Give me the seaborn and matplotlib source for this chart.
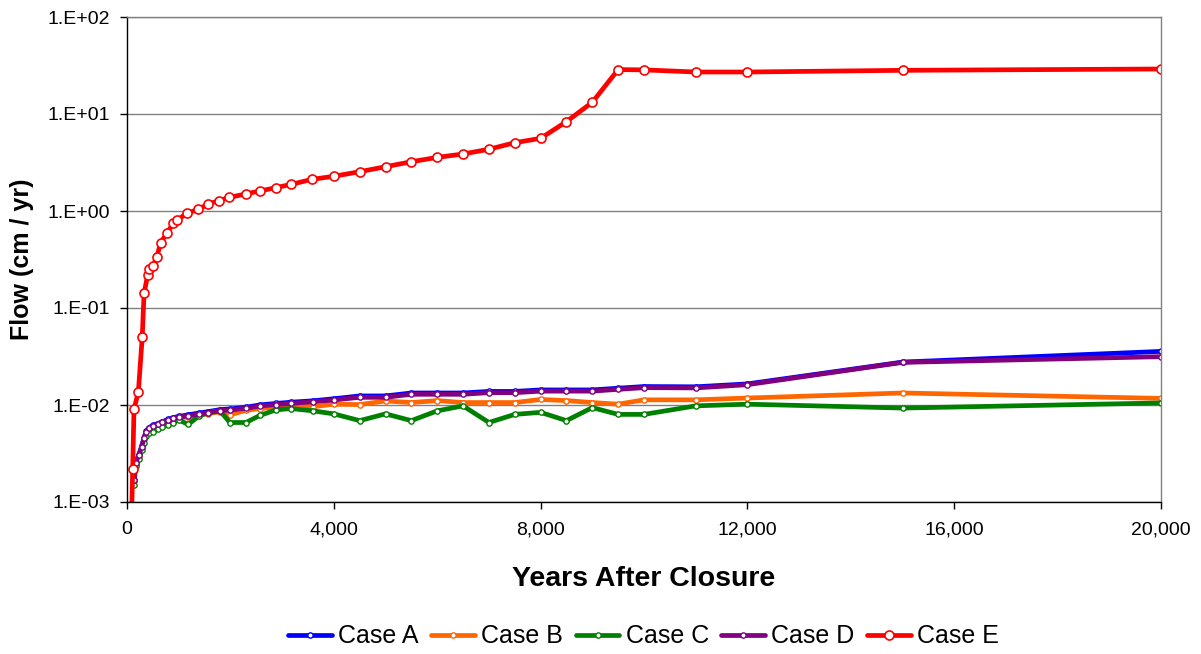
import numpy as np
import pandas as pd
import matplotlib
matplotlib.use("Agg")
import matplotlib.pyplot as plt
import matplotlib.ticker as mticker
import seaborn as sns

# time points (years after closure)
years_low = [135, 170, 230, 285, 330, 370, 420, 500, 590, 685, 800, 895, 1005, 1185,
             1390, 1570, 1800, 1990, 2300, 2570, 2880, 3170, 3600, 4000, 4500, 5000,
             5500, 6000, 6500, 7000, 7500, 8000, 8500, 9000, 9500, 10000, 11000,
             12000, 15000, 20000]
years_e = [50, 110, 135, 220, 295, 330, 400, 430, 500, 575, 650, 770, 895, 975, 1155,
           1380, 1570, 1785, 1980, 2300, 2570, 2880, 3170, 3580, 4000, 4500, 5000,
           5500, 6000, 6500, 7000, 7500, 8000, 8500, 9000, 9500, 10000, 11000,
           12000, 15000, 20000]

# flow values (cm / yr)
case_a = [0.00170, 0.00256, 0.00308, 0.00376, 0.00459, 0.00537, 0.00582, 0.00616,
          0.00642, 0.00673, 0.00712, 0.00742, 0.00762, 0.00793, 0.00826, 0.00854,
          0.00896, 0.00910, 0.00948, 0.01002, 0.01037, 0.01068, 0.01105, 0.01160,
          0.01240, 0.01240, 0.01330, 0.01330, 0.01330, 0.01380, 0.01380, 0.01430,
          0.01430, 0.01430, 0.01490, 0.01550, 0.01540, 0.01650, 0.02770, 0.03570]
case_b = [0.00166, 0.00249, 0.00299, 0.00365, 0.00445, 0.00520, 0.00563, 0.00596,
          0.00620, 0.00650, 0.00686, 0.00714, 0.00732, 0.00760, 0.00790, 0.00817,
          0.00850, 0.00790, 0.00880, 0.00920, 0.00950, 0.01020, 0.00960, 0.01020,
          0.01010, 0.01100, 0.01060, 0.01110, 0.01060, 0.01060, 0.01060, 0.01140,
          0.01110, 0.01060, 0.01020, 0.01130, 0.01130, 0.01180, 0.01330, 0.01170]
case_c = [0.00150, 0.00235, 0.00280, 0.00340, 0.00410, 0.00480, 0.00510, 0.00530,
          0.00560, 0.00600, 0.00620, 0.00660, 0.00700, 0.00630, 0.00770, 0.00830,
          0.00870, 0.00660, 0.00660, 0.00780, 0.00890, 0.00920, 0.00870, 0.00810,
          0.00690, 0.00810, 0.00690, 0.00870, 0.00980, 0.00660, 0.00800, 0.00840,
          0.00690, 0.00940, 0.00800, 0.00800, 0.00980, 0.01020, 0.00930, 0.01050]
case_d = [0.00169, 0.00254, 0.00305, 0.00372, 0.00454, 0.00531, 0.00575, 0.00608,
          0.00633, 0.00663, 0.00700, 0.00729, 0.00747, 0.00776, 0.00807, 0.00834,
          0.00875, 0.00888, 0.00924, 0.00977, 0.01010, 0.01040, 0.01080, 0.01127,
          0.01200, 0.01200, 0.01290, 0.01290, 0.01290, 0.01340, 0.01340, 0.01390,
          0.01390, 0.01390, 0.01450, 0.01510, 0.01500, 0.01620, 0.02750, 0.03150]
case_e = [0.0001, 0.00217, 0.0090, 0.0137, 0.0506, 0.142, 0.219, 0.250, 0.271, 0.333,
          0.471, 0.589, 0.747, 0.807, 0.946, 1.04, 1.18, 1.28, 1.38, 1.50, 1.61, 1.74,
          1.88, 2.12, 2.28, 2.54, 2.86, 3.22, 3.57, 3.87, 4.33, 5.06, 5.61, 8.34, 13.2,
          28.7, 28.5, 27.1, 27.1, 28.2, 29.1]

case_names = ["Case A", "Case B", "Case C", "Case D", "Case E"]
colors = ["#0000FF", "#FF6600", "#008000", "#800080", "#FF0000"]

sns.set_theme(style="white")
plt.rcParams["font.family"] = ["Liberation Sans", "DejaVu Sans"]
plt.rcParams["text.color"] = "black"
plt.rcParams["axes.labelcolor"] = "black"
plt.rcParams["xtick.color"] = "black"
plt.rcParams["ytick.color"] = "black"

fig = plt.figure(figsize=(12.01, 6.54), dpi=100)
ax = fig.add_axes([127 / 1201, 1 - 502 / 654, (1161 - 127) / 1201, (502 - 17) / 654])

series = [(years_low, case_a), (years_low, case_b), (years_low, case_c),
          (years_low, case_d), (years_e, case_e)]
for (xs, ys), name, col in zip(series, case_names, colors):
    df = pd.DataFrame({"Years": xs, "Flow": ys})
    big = name == "Case E"
    sns.lineplot(data=df, x="Years", y="Flow", ax=ax, color=col, label=name,
                 linewidth=3.4, marker="o", markersize=6.5 if big else 3.8,
                 markerfacecolor="white", markeredgecolor=col,
                 markeredgewidth=1.2 if big else 1.0,
                 estimator=None, sort=False, clip_on=True)

ax.set_yscale("log")
ax.set_ylim(1e-3, 1e2)
ax.set_xlim(0, 20000)
ax.yaxis.set_major_locator(mticker.LogLocator(base=10, numticks=10))
ax.yaxis.set_minor_locator(mticker.NullLocator())
ax.yaxis.set_major_formatter(mticker.FuncFormatter(
    lambda v, p: "1.E{:+03d}".format(int(round(np.log10(v))))))
ax.xaxis.set_major_locator(mticker.MultipleLocator(4000))
ax.xaxis.set_major_formatter(mticker.FuncFormatter(lambda v, p: "{:,.0f}".format(v)))

ax.grid(axis="y", color="#808080", linewidth=1.0)
ax.grid(axis="x", visible=False)
ax.set_axisbelow(True)
for side in ["left", "bottom"]:
    ax.spines[side].set_color("black")
    ax.spines[side].set_linewidth(1.0)
for side in ["top", "right"]:
    ax.spines[side].set_color("#808080")
    ax.spines[side].set_linewidth(1.0)

ax.tick_params(axis="both", which="major", direction="out", length=5, width=1,
               color="black", labelsize=14, bottom=True, left=True)
ax.tick_params(axis="y", pad=7)
ax.tick_params(axis="x", pad=9)
ax.set_xlabel("Years After Closure", fontsize=20.5, fontweight="bold", labelpad=20)
ax.set_ylabel("Flow (cm / yr)", fontsize=18, fontweight="bold", labelpad=10)

handles, labels = ax.get_legend_handles_labels()
ax.get_legend().remove()
fig.legend(handles, labels, loc="center", bbox_to_anchor=(0.536, 0.027), ncol=5,
           frameon=False, fontsize=18, handlelength=1.75, handletextpad=0.25,
           columnspacing=0.5)

fig.savefig("out.png", dpi=100)
